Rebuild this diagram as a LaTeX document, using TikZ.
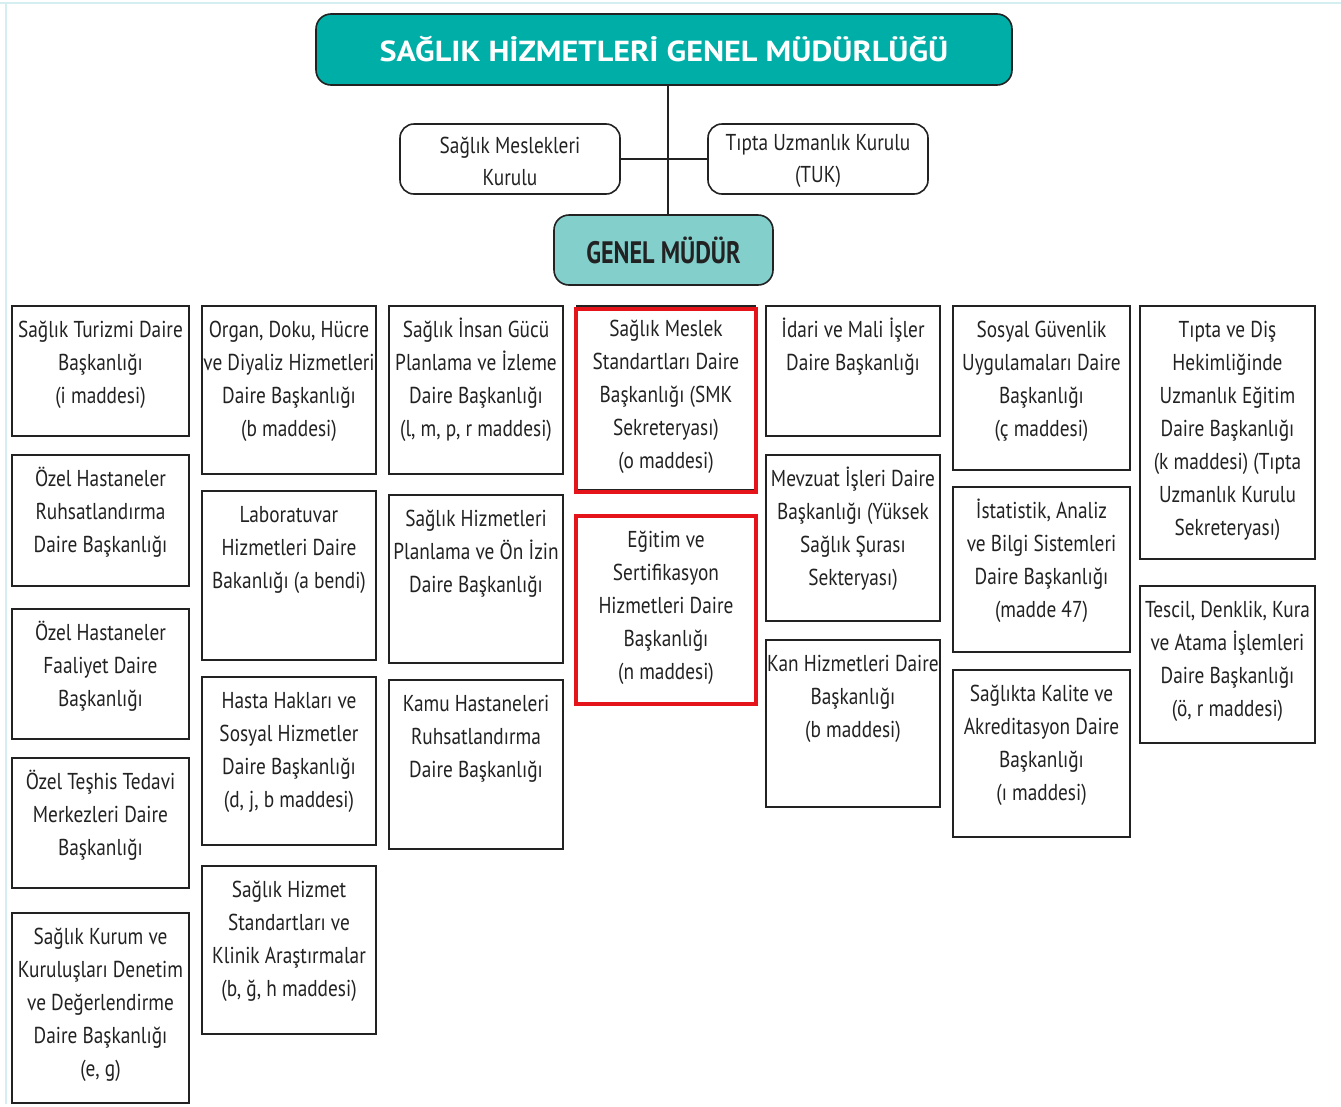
\documentclass[tikz,border=0pt]{standalone}
\usepackage{graphicx}
\usepackage{fontspec}
\setmainfont{PT Sans}[FakeStretch=0.84]
\definecolor{tealA}{HTML}{00AEA8}
\definecolor{tealB}{HTML}{82CFCC}
\definecolor{ink}{HTML}{222222}
\definecolor{framec}{HTML}{D5EEF0}
\definecolor{redb}{HTML}{E5141B}
\tikzset{
  box/.style={draw=ink, line width=1.6pt, fill=white, inner sep=0pt, outer sep=0pt},
  redbox/.style={draw=redb, line width=4pt, inner sep=0pt, outer sep=0pt},
  txt/.style={text=ink, align=center, inner sep=0pt, font=\fontsize{23}{33}\selectfont},
  rbox/.style={draw=ink, line width=1.6pt, rounded corners=14pt, inner sep=0pt, outer sep=0pt,
    minimum width=220pt, minimum height=70pt},
  rtxt/.style={align=center, text=ink, inner sep=0pt, font=\fontsize{23}{32}\selectfont},
  conn/.style={draw=ink, line width=1.6pt}
}
\newcommand\orgbox[7][box]{%
  \node[#1, minimum width={(#5-#3)*1pt}, minimum height={(#6-#4)*1pt}, anchor=north west] (#2) at (#3,#4) {};
  \node[txt, anchor=north] (#2-t) at ([yshift=-10pt]#2.north) {\rule{0pt}{21pt}#7};
}
\begin{document}
\begin{tikzpicture}[x=1pt, y=-1pt]
\useasboundingbox (0,0) rectangle (1341,1106);
\fill[white] (0,0) rectangle (1341,1106);
% light frame
\fill[framec] (0,2.3) rectangle (1341,4.3);
\fill[framec] (5,2.3) rectangle (7.3,1104);

% head
\node[draw=ink, line width=1.6pt, rounded corners=15pt, fill=tealA, minimum width=696pt, minimum height=71pt,
  inner sep=0pt, text=white, font=\bfseries\fontsize{29}{30}\selectfont] (hq) at (664,49.5) {\raisebox{1.5pt}{\scalebox{1.32}[1]{SAĞLIK HİZMETLERİ GENEL MÜDÜRLÜĞÜ}}};
\node[rbox] (smk) at (510,159) {};
\node[rtxt] (smk-t) at ([yshift=-2pt]smk.center) {Sağlık Meslekleri\\Kurulu};
\node[rbox] (tuk) at (818,159) {};
\node[rtxt] (tuk-t) at ([yshift=-2pt]tuk.center) {Tıpta Uzmanlık Kurulu\\(TUK)};
\node[draw=ink, line width=1.6pt, rounded corners=15pt, fill=tealB, minimum width=219pt, minimum height=70pt,
  inner sep=0pt, text=ink, font=\bfseries\fontsize{31}{32}\selectfont] (gm) at (663.5,250) {\scalebox{0.93}[1]{GENEL MÜDÜR}};
\draw[conn] ([xshift=4pt]hq.south) -- ([xshift=4.5pt]gm.north);
\draw[conn] (smk.east) -- (tuk.west);

% column 1
\orgbox{c1a}{12}{306}{189}{436}{Sağlık Turizmi Daire\\Başkanlığı\\(i maddesi)}
\orgbox{c1b}{12}{455}{189}{586}{Özel Hastaneler\\Ruhsatlandırma\\Daire Başkanlığı}
\orgbox{c1c}{12}{609}{189}{739}{Özel Hastaneler\\Faaliyet Daire\\Başkanlığı}
\orgbox{c1d}{12}{758}{189}{888}{Özel Teşhis Tedavi\\Merkezleri Daire\\Başkanlığı}
\orgbox{c1e}{12}{913}{189}{1103}{Sağlık Kurum ve\\Kuruluşları Denetim\\ve Değerlendirme\\Daire Başkanlığı\\(e, g)}
% column 2
\orgbox{c2a}{202}{306}{376}{474}{Organ, Doku, Hücre\\ve Diyaliz Hizmetleri\\Daire Başkanlığı\\(b maddesi)}
\orgbox{c2b}{202}{491}{376}{660}{Laboratuvar\\Hizmetleri Daire\\Bakanlığı (a bendi)}
\orgbox{c2c}{202}{677}{376}{845}{Hasta Hakları ve\\Sosyal Hizmetler\\Daire Başkanlığı\\(d, j, b maddesi)}
\orgbox{c2d}{202}{866}{376}{1034}{Sağlık Hizmet\\Standartları ve\\Klinik Araştırmalar\\(b, ğ, h maddesi)}
% column 3
\orgbox{c3a}{389}{306}{563}{474}{Sağlık İnsan Gücü\\Planlama ve İzleme\\Daire Başkanlığı\\(l, m, p, r maddesi)}
\orgbox{c3b}{389}{495}{563}{663}{Sağlık Hizmetleri\\Planlama ve Ön İzin\\Daire Başkanlığı}
\orgbox{c3c}{389}{680}{563}{849}{Kamu Hastaneleri\\Ruhsatlandırma\\Daire Başkanlığı}
% column 4
\node[box, minimum width=178pt, minimum height=184pt, anchor=north west] (c4back) at (577,306) {};
\node[redbox, minimum width=180pt, minimum height=183pt, anchor=north west] (c4a) at (576,309) {};
\node[txt, anchor=north] (c4a-t) at ([yshift=-6pt]c4a.north) {\rule{0pt}{21pt}Sağlık Meslek\\Standartları Daire\\Başkanlığı (SMK\\Sekreteryası)\\(o maddesi)};
\orgbox[redbox]{c4b}{576}{516}{756}{704}{Eğitim ve\\Sertifikasyon\\Hizmetleri Daire\\Başkanlığı\\(n maddesi)}
% column 5
\orgbox{c5a}{766}{306}{940}{436}{İdari ve Mali İşler\\Daire Başkanlığı}
\orgbox{c5b}{766}{455}{940}{621}{Mevzuat İşleri Daire\\Başkanlığı (Yüksek\\Sağlık Şurası\\Sekteryası)}
\orgbox{c5c}{766}{640}{940}{807}{Kan Hizmetleri Daire\\Başkanlığı\\(b maddesi)}
% column 6
\orgbox{c6a}{953}{306}{1130}{470}{Sosyal Güvenlik\\Uygulamaları Daire\\Başkanlığı\\(ç maddesi)}
\orgbox{c6b}{953}{487}{1130}{652}{İstatistik, Analiz\\ve Bilgi Sistemleri\\Daire Başkanlığı\\(madde 47)}
\orgbox{c6c}{953}{670}{1130}{837}{Sağlıkta Kalite ve\\Akreditasyon Daire\\Başkanlığı\\(ı maddesi)}
% column 7
\orgbox{c7a}{1140}{306}{1315}{559}{Tıpta ve Diş\\Hekimliğinde\\Uzmanlık Eğitim\\Daire Başkanlığı\\(k maddesi) (Tıpta\\Uzmanlık Kurulu\\Sekreteryası)}
\orgbox{c7b}{1140}{586}{1315}{743}{Tescil, Denklik, Kura\\ve Atama İşlemleri\\Daire Başkanlığı\\(ö, r maddesi)}
\end{tikzpicture}
\end{document}
